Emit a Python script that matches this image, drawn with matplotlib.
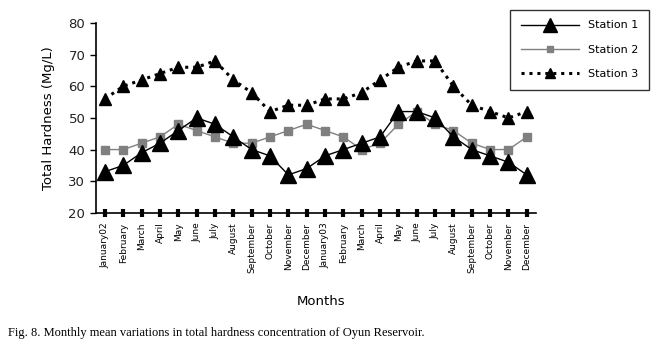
import numpy as np
import matplotlib
matplotlib.use('Agg')
import matplotlib.pyplot as plt

# data
months = ['January02', 'February', 'March', 'April', 'May', 'June', 'July',
          'August', 'September', 'October', 'November', 'December',
          'January03', 'February', 'March', 'April', 'May', 'June', 'July',
          'August', 'September', 'October', 'November', 'December']
station1 = [33, 35, 39, 42, 46, 50, 48, 44, 40, 38, 32, 34,
            38, 40, 42, 44, 52, 52, 50, 44, 40, 38, 36, 32]
station2 = [40, 40, 42, 44, 48, 46, 44, 42, 42, 44, 46, 48,
            46, 44, 40, 42, 48, 52, 48, 46, 42, 40, 40, 44]
station3 = [56, 60, 62, 64, 66, 66, 68, 62, 58, 52, 54, 54,
            56, 56, 58, 62, 66, 68, 68, 60, 54, 52, 50, 52]
y_ticks = [20, 30, 40, 50, 60, 70, 80]

plt.rcParams['font.family'] = 'DejaVu Sans'

fig = plt.figure(figsize=(6.65, 3.53), dpi=100)
ax = fig.add_axes([0.144, 0.397, 0.662, 0.538])

x = np.arange(len(months))
ax.plot(x, station3, color='black', lw=2.2, ls=(0, (1, 1.6)), marker='^',
        ms=8, label='Station 3', zorder=2)
ax.plot(x, station2, color='#808080', lw=1, marker='s', ms=5.5,
        label='Station 2', zorder=3)
ax.plot(x, station1, color='black', lw=1, marker='^', ms=12,
        label='Station 1', zorder=4)

ax.set_xlim(-0.5, len(months) - 0.5)
ax.set_ylim(20, 80)
ax.set_yticks(y_ticks)
ax.set_xticks(x)
ax.set_xticklabels(months, rotation=90, fontsize=6.5)
ax.tick_params(axis='x', direction='inout', length=6, width=3, pad=4)
ax.tick_params(axis='y', direction='out', length=4, width=1, labelsize=9.5)
for lbl in ax.get_yticklabels():
    lbl.set_color('#222222')

for s in ['top', 'right']:
    ax.spines[s].set_visible(False)
ax.spines['left'].set_linewidth(1.2)
ax.spines['bottom'].set_linewidth(1.2)

ax.set_ylabel('Total Hardness (Mg/L)', fontsize=9.5, labelpad=10)
fig.text(0.483, 0.145, 'Months', ha='center', va='center', fontsize=9.5)

handles, labels = ax.get_legend_handles_labels()
leg = fig.legend(handles[::-1], labels[::-1], loc='upper left',
                 bbox_to_anchor=(0.767, 0.972), fontsize=8, frameon=True,
                 fancybox=False, edgecolor='black', handlelength=5.3,
                 borderpad=0.95, labelspacing=1.3, handletextpad=0.8,
                 borderaxespad=0, markerscale=0.85)
leg.get_frame().set_linewidth(1)

fig.text(0.012, 0.058,
         'Fig. 8. Monthly mean variations in total hardness concentration of Oyun Reservoir.',
         fontsize=9, family='Liberation Serif', ha='left', va='center')

fig.savefig('out.png', dpi=100)
